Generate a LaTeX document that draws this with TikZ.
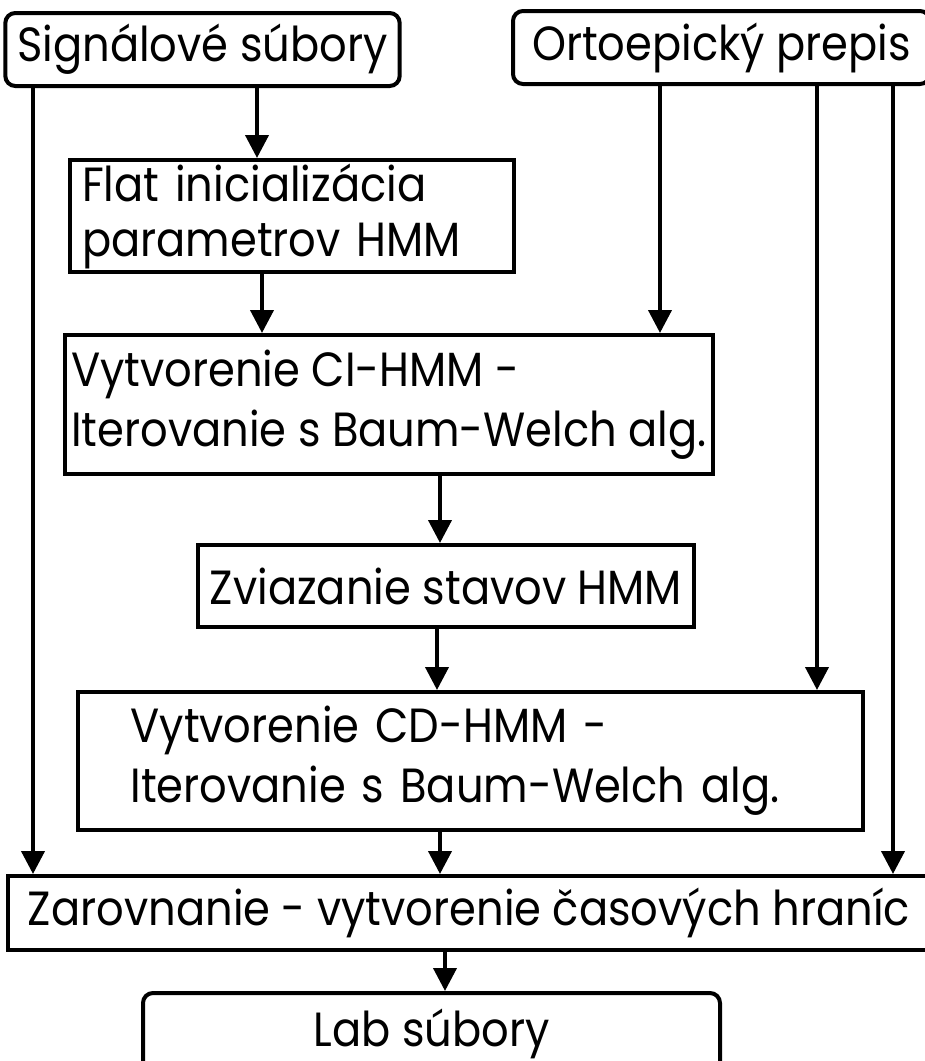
\documentclass[tikz,border=0pt]{standalone}
\usepackage{fontspec}
\setmainfont{Poppins}[FakeStretch=0.9]
\usetikzlibrary{arrows.meta}
\tikzset{
  box/.style={draw, line width=2pt, inner ysep=0pt, inner xsep=6pt, font=\fontsize{24}{30}\selectfont, align=left},
  rbox/.style={box, rounded corners=5pt, align=center},
  arr/.style={line width=2pt, -{Triangle[length=11.5pt,width=11.5pt]}},
}
\begin{document}
\begin{tikzpicture}[x=0.5pt,y=-0.5pt]
  \useasboundingbox (0,0) rectangle (925,1061);
  % vstupy
  \node[rbox, minimum width=193.5pt, minimum height=36.5pt] (sig) at (202.5,49.5) {Signálové súbory};
  \node[rbox, minimum width=208.5pt, minimum height=36.5pt] (ort) at (721.5,47.5) {Ortoepický prepis};
  % kroky trenovania
  \node[box, minimum width=222pt, minimum height=56pt, text width=210pt, font=\fontsize{24}{27.5}\selectfont] (flat) at (292,216) {Flat inicializácia\\parametrov HMM};
  \node[box, minimum width=321pt, minimum height=69.5pt, inner xsep=3pt] (ci) at (389,404.5) {Vytvorenie CI-HMM -\\Iterovanie s Baum-Welch alg.};
  \node[box, minimum width=246pt, minimum height=41pt, align=center] (tie) at (446,586) {Zviazanie stavov HMM};
  \node[box, minimum width=392.5pt, minimum height=69pt, inner xsep=26pt, text width=340pt] (cd) at (470.5,761) {Vytvorenie CD-HMM -\\Iterovanie s Baum-Welch alg.};
  \node[box, minimum width=461pt, minimum height=37pt, align=center] (zar) at (469,913) {Zarovnanie - vytvorenie časových hraníc};
  % vystup
  \node[rbox, minimum width=288.5pt, minimum height=41pt] (lab) at (431.5,1034) {Lab súbory};
  % x polohy spojnic
  \coordinate (xa) at (33,0);
  \coordinate (xb) at (257,0);
  \coordinate (xc) at (262,0);
  \coordinate (xd) at (660,0);
  \coordinate (xe) at (817,0);
  \coordinate (xf) at (893,0);
  \coordinate (xg) at (440,0);
  \coordinate (xh) at (437,0);
  \coordinate (xi) at (440,0);
  \coordinate (xj) at (445,0);
  \draw[arr] (xa |- sig.south) -- (xa |- zar.north);
  \draw[arr] (xb |- sig.south) -- (xb |- flat.north);
  \draw[arr] (xc |- flat.south) -- (xc |- ci.north);
  \draw[arr] (xd |- ort.south) -- (xd |- ci.north);
  \draw[arr] (xe |- ort.south) -- (xe |- cd.north);
  \draw[arr] (xf |- ort.south) -- (xf |- zar.north);
  \draw[arr] (xg |- ci.south) -- (xg |- tie.north);
  \draw[arr] (xh |- tie.south) -- (xh |- cd.north);
  \draw[arr] (xi |- cd.south) -- (xi |- zar.north);
  \draw[arr] (xj |- zar.south) -- (xj |- lab.north);
\end{tikzpicture}
\end{document}
